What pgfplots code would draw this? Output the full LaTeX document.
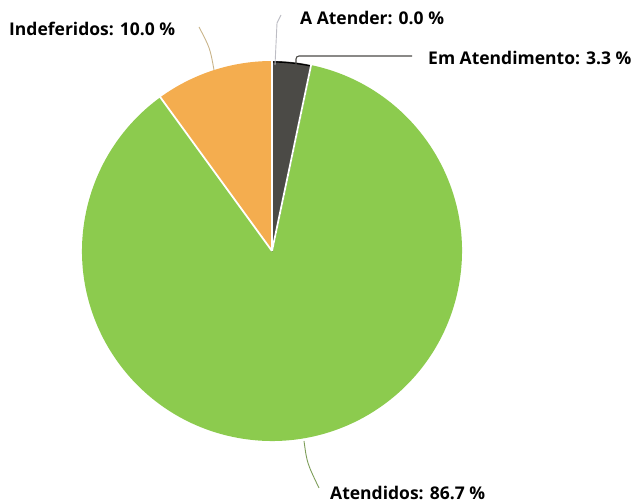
\documentclass[border=0pt]{standalone}
\usepackage{fontspec}
\setmainfont{Open Sans}
\usepackage{pgfplots}
\usepackage{pgfplotstable}
\pgfplotsset{compat=1.18}
\definecolor{cGreen}{HTML}{8CCB4E}
\definecolor{cOrange}{HTML}{F4AD4F}
\definecolor{cDark}{HTML}{4B4A46}
\definecolor{cLeadO}{HTML}{C9B48A}
\definecolor{cLeadG}{HTML}{BDBDC4}
\definecolor{cLeadGr}{HTML}{7E9E5A}
\pgfplotstableread[col sep=comma]{
label,value
A Atender,0.0
Em Atendimento,3.3
Atendidos,86.7
Indeferidos,10.0
}\piedata
\pgfplotstablegetelem{0}{value}\of\piedata \let\vA\pgfplotsretval
\pgfplotstablegetelem{1}{value}\of\piedata \let\vB\pgfplotsretval
\pgfplotstablegetelem{2}{value}\of\piedata \let\vC\pgfplotsretval
\pgfplotstablegetelem{3}{value}\of\piedata \let\vD\pgfplotsretval
\pgfmathsetmacro\aA{90-3.6*\vA}
\pgfmathsetmacro\aB{\aA-3.6*\vB}
\pgfmathsetmacro\aC{\aB-3.6*\vC}
\pgfmathsetmacro\aD{\aC-3.6*\vD}
\begin{document}
\begin{tikzpicture}
\useasboundingbox (0,0) rectangle (632pt,503pt);
\begin{axis}[x=1pt,y=1pt,xmin=0,xmax=632,ymin=0,ymax=503,hide axis,clip=false,
  at={(0,0)},anchor=south west]
\def\R{190pt}
% Atendidos
\fill[cGreen] (axis cs:272,252) -- ++(\aB:\R) arc[start angle=\aB, end angle=\aC, radius=\R] -- cycle;
% Indeferidos
\fill[cOrange] (axis cs:272,252) -- ++(\aC:\R) arc[start angle=\aC, end angle=\aD, radius=\R] -- cycle;
% Em Atendimento
\fill[cDark] (axis cs:272,252) -- ++(\aA:\R) arc[start angle=\aA, end angle=\aB, radius=\R] -- cycle;
\draw[black,line width=1.2pt,line join=round] (axis cs:272,252) -- ++(\aA:\R-1pt) arc[start angle=\aA, end angle=\aB, radius=\R-1pt] -- cycle;
% separators
\draw[white,line width=1.8pt] (axis cs:272,252) -- ++(\aA:\R+1pt);
\draw[white,line width=1.8pt] (axis cs:272,252) -- ++(\aB:\R+1pt);
\draw[white,line width=1.8pt] (axis cs:272,252) -- ++(\aC:\R+1pt);
% leader lines
\draw[cLeadO,line width=0.9pt] (axis cs:214,433) .. controls (axis cs:210,455) .. (axis cs:199,476);
\draw[cLeadG,line width=0.9pt] (axis cs:275,438) -- (axis cs:277,480) -- (axis cs:281,488);
\draw[cDark,line width=1.1pt,rounded corners=3pt] (axis cs:296,435) -- (axis cs:296,447) -- (axis cs:412,447);
\draw[cLeadGr,line width=0.9pt] (axis cs:304,62) .. controls (axis cs:307,40) .. (axis cs:319,15);
% labels
\tikzset{lbl/.style={anchor=west,font=\bfseries\fontsize{17.5}{20}\selectfont,inner sep=0pt}}
\node[lbl] at (axis cs:9,474) {Indeferidos: 10.0 \%};
\node[lbl] at (axis cs:300,485) {A Atender: 0.0 \%};
\node[lbl] at (axis cs:428,445) {Em Atendimento: 3.3 \%};
\node[lbl] at (axis cs:330,10) {Atendidos: 86.7 \%};
\end{axis}
\end{tikzpicture}
\end{document}
